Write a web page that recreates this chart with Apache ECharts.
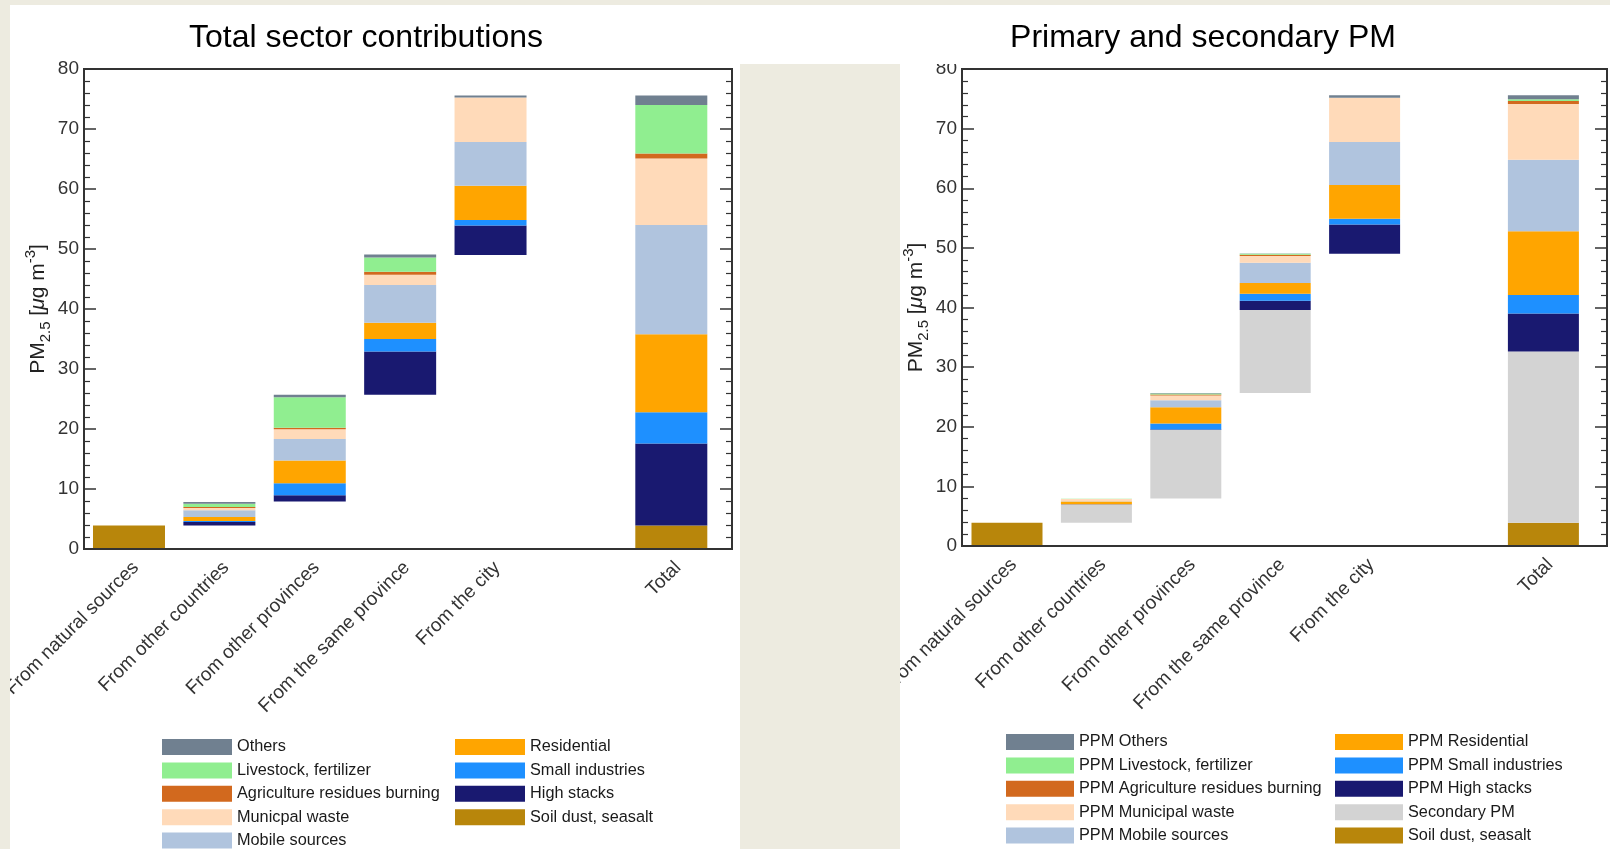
<!DOCTYPE html>
<html><head><meta charset="utf-8">
<script src="https://cdn.jsdelivr.net/npm/echarts@6/dist/echarts.min.js"></script>
<style>html,body{margin:0;padding:0;background:#fff}#c{width:1610px;height:849px}</style>
</head><body><div id="c"></div>
<script>
// ---------- DATA ----------
const categories = ['From natural sources', 'From other countries', 'From other provinces', 'From the same province', 'From the city', '', 'Total'];
const yTicks = [0, 10, 20, 30, 40, 50, 60, 70, 80];

// Left panel: Total sector contributions (waterfall: offset = invisible bar bottom)
const leftOffset       = [0,   3.9,  7.9,  25.7, 49.0, null, 0];
const leftSoil         = [3.9, 0,    0,    0,    0,    null, 3.9];
const leftHighStacks   = [0,   0.6,  1.05, 7.2,  4.9,  null, 13.7];
const leftSmallInd     = [0,   0.17, 2.0,  2.1,  0.95, null, 5.2];
const leftResidential  = [0,   0.67, 3.8,  2.7,  5.7,  null, 13.0];
const leftMobile       = [0,   1.1,  3.6,  6.3,  7.3,  null, 18.2];
const leftMunicipal    = [0,   0.4,  1.6,  1.7,  7.4,  null, 11.1];
const leftAgriculture  = [0,   0.17, 0.25, 0.5,  0,    null, 0.8];
const leftLivestock    = [0,   0.55, 5.1,  2.4,  0,    null, 8.1];
const leftOthers       = [0,   0.28, 0.4,  0.5,  0.35, null, 1.6];

// Right panel: Primary and secondary PM
const rightOffset      = [0,   3.9,  7.95, 25.65, 49.0, null, 0];
const rightSoil        = [3.9, 0,    0,    0,     0,    null, 3.9];
const rightSecondary   = [0,   3.05, 11.5, 13.95, 0,    null, 28.7];
const rightHighStacks  = [0,   0.05, 0.1,  1.55,  4.9,  null, 6.4];
const rightSmallInd    = [0,   0.02, 1.0,  1.15,  1.0,  null, 3.1];
const rightResidential = [0,   0.45, 2.7,  1.8,   5.65, null, 10.7];
const rightMobile      = [0,   0.05, 1.2,  3.4,   7.2,  null, 12.0];
const rightMunicipal   = [0,   0.35, 0.8,  1.13,  7.43, null, 9.35];
const rightAgriculture = [0,   0.03, 0.17, 0.2,   0,    null, 0.5];
const rightLivestock   = [0,   0.02, 0.17, 0.17,  0,    null, 0.28];
const rightOthers      = [0,   0.02, 0.05, 0.05,  0.4,  null, 0.67];

const leftNames = ['Soil dust, seasalt', 'High stacks', 'Small industries', 'Residential', 'Mobile sources', 'Municpal waste', 'Agriculture residues burning', 'Livestock, fertilizer', 'Others'];
const rightNames = ['Soil dust, seasalt', 'Secondary PM', 'PPM High stacks', 'PPM Small industries', 'PPM Residential', 'PPM Mobile sources', 'PPM Municipal waste', 'PPM Agriculture residues burning', 'PPM Livestock, fertilizer', 'PPM Others'];

// ---------- STYLE ----------
const C = {
  soil: '#B8860B', secondary: '#D3D3D3', high: '#191970', small: '#1E90FF', res: '#FFA500',
  mobile: '#B0C4DE', muni: '#FFDAB9', agri: '#D2691E', live: '#90EE90', others: '#708090'
};
const FONT = 'Liberation Sans, Arial, Helvetica, sans-serif';
const BEIGE = '#edebe0';
const AX = '#333333';

const leftSets = [leftSoil, leftHighStacks, leftSmallInd, leftResidential, leftMobile, leftMunicipal, leftAgriculture, leftLivestock, leftOthers];
const leftColors = [C.soil, C.high, C.small, C.res, C.mobile, C.muni, C.agri, C.live, C.others];
const rightSets = [rightSoil, rightSecondary, rightHighStacks, rightSmallInd, rightResidential, rightMobile, rightMunicipal, rightAgriculture, rightLivestock, rightOthers];
const rightColors = [C.soil, C.secondary, C.high, C.small, C.res, C.mobile, C.muni, C.agri, C.live, C.others];

function buildSeries(offset, sets, names, colors, stack, xi, yi, bw) {
  const out = [{
    type: 'bar', name: '_base_' + stack, stack: stack, xAxisIndex: xi, yAxisIndex: yi,
    data: offset, barWidth: bw, itemStyle: { color: 'rgba(0,0,0,0)' }, silent: true
  }];
  sets.forEach((arr, k) => out.push({
    type: 'bar', name: names[k], stack: stack, xAxisIndex: xi, yAxisIndex: yi,
    data: arr, barWidth: bw, itemStyle: { color: colors[k] }
  }));
  return out;
}

const H = 849;
const L = { frameLeft: 84, frameRight: 732, top: 69, bottom: 549, dataLeft: 83, slot: 90.5 };
const R = { frameLeft: 962, frameRight: 1607, top: 69, bottom: 546, dataLeft: 962.3, slot: 89.4 };

function frameGrid(p) {
  return { left: p.frameLeft, width: p.frameRight - p.frameLeft, top: p.top, height: p.bottom - p.top,
    show: true, borderColor: AX, borderWidth: 2, backgroundColor: 'transparent' };
}
function dataGrid(p) {
  return { left: p.dataLeft, width: p.slot * categories.length, top: p.top, height: p.bottom - p.top, show: false };
}
function frameX(gi) {
  return { type: 'value', gridIndex: gi, min: 0, max: 1, z: 10,
    axisLine: { show: true, onZero: false, lineStyle: { color: AX, width: 2 } },
    axisTick: { show: false }, axisLabel: { show: false }, splitLine: { show: false } };
}
function dataX(gi) {
  return { type: 'category', gridIndex: gi, data: categories,
    axisLine: { show: false }, axisTick: { show: false }, splitLine: { show: false },
    axisLabel: { interval: 0, rotate: 45, fontSize: 19, color: AX, fontFamily: FONT, margin: 9, verticalAlign: 'top' } };
}
const yMin = yTicks[0], yMax = yTicks[yTicks.length - 1], yInt = yTicks[1] - yTicks[0];
function frameY(gi, pos, labels) {
  const o = { type: 'value', gridIndex: gi, position: pos, min: yMin, max: yMax, interval: yInt, z: 10,
    axisLine: { show: true, lineStyle: { color: AX, width: 2 } },
    axisTick: { show: true, inside: true, length: 12, lineStyle: { color: AX, width: 1.5 } },
    minorTick: { show: true, splitNumber: 5, length: 6, lineStyle: { color: AX, width: 1.2 } },
    splitLine: { show: false },
    axisLabel: { show: labels, fontSize: 19, color: AX, fontFamily: FONT, margin: 5 } };
  if (labels) {
    o.name = '{a|PM}{s|2.5}{a| [}{m|μ}{a|g m}{p|-3}{a|]}';
    o.nameLocation = 'middle';
    o.nameGap = 31;
    o.nameTextStyle = { color: '#222', fontFamily: FONT, fontSize: 21,
      rich: {
        a: { fontSize: 21, lineHeight: 30, fontFamily: FONT, color: '#222' },
        m: { fontSize: 21, lineHeight: 30, fontStyle: 'italic', fontFamily: FONT, color: '#222' },
        s: { fontSize: 15, lineHeight: 13, verticalAlign: 'bottom', fontFamily: FONT, color: '#222' },
        p: { fontSize: 15, lineHeight: 13, verticalAlign: 'top', fontFamily: FONT, color: '#222' }
      } };
  }
  return o;
}
function dataY(gi) {
  return { type: 'value', gridIndex: gi, min: yMin, max: yMax, interval: yInt, show: false, splitLine: { show: false } };
}
function legend(names, left, top, iw) {
  return { data: names, orient: 'vertical', left: left, top: top, itemWidth: iw, itemHeight: 16, itemGap: 7.4,
    icon: 'rect', selectedMode: false, padding: 0,
    textStyle: { fontSize: 16.3, lineHeight: 16, color: '#1a1a1a', fontFamily: FONT } };
}

const option = {
  animation: false,
  backgroundColor: '#ffffff',
  title: [
    { text: 'Total sector contributions', left: 366, top: 22, textAlign: 'center', padding: 0,
      textStyle: { fontSize: 32, fontWeight: 'normal', color: '#000', fontFamily: FONT } },
    { text: 'Primary and secondary PM', left: 1203, top: 22, textAlign: 'center', padding: 0,
      textStyle: { fontSize: 32, fontWeight: 'normal', color: '#000', fontFamily: FONT } }
  ],
  grid: [frameGrid(L), dataGrid(L), frameGrid(R), dataGrid(R)],
  xAxis: [frameX(0), dataX(1), frameX(2), dataX(3)],
  yAxis: [frameY(0, 'left', true), frameY(0, 'right', false), dataY(1),
          frameY(2, 'left', true), frameY(2, 'right', false), dataY(3)],
  legend: [
    legend(['Others', 'Livestock, fertilizer', 'Agriculture residues burning', 'Municpal waste', 'Mobile sources'], 162, 739, 70),
    legend(['Residential', 'Small industries', 'High stacks', 'Soil dust, seasalt'], 455, 739, 70),
    legend(['PPM Others', 'PPM Livestock, fertilizer', 'PPM Agriculture residues burning', 'PPM Municipal waste', 'PPM Mobile sources'], 1006, 734, 68),
    legend(['PPM Residential', 'PPM Small industries', 'PPM High stacks', 'Secondary PM', 'Soil dust, seasalt'], 1335, 734, 68)
  ],
  graphic: [
    { type: 'rect', shape: { x: 0, y: 0, width: 1610, height: 5 }, style: { fill: BEIGE }, z: 100, silent: true },
    { type: 'rect', shape: { x: 0, y: 0, width: 10, height: H }, style: { fill: BEIGE }, z: 100, silent: true },
    { type: 'rect', shape: { x: 740, y: 64, width: 160, height: H - 64 }, style: { fill: BEIGE }, z: 100, silent: true },
    { type: 'rect', shape: { x: 905, y: 50, width: 52, height: 14 }, style: { fill: '#ffffff' }, z: 100, silent: true }
  ],
  series: [].concat(
    buildSeries(leftOffset, leftSets, leftNames, leftColors, 'L', 1, 2, 72),
    buildSeries(rightOffset, rightSets, rightNames, rightColors, 'R', 3, 5, 71)
  )
};

const chart = echarts.init(document.getElementById('c'), null, { renderer: 'canvas' });
chart.setOption(option);
</script>
</body></html>
